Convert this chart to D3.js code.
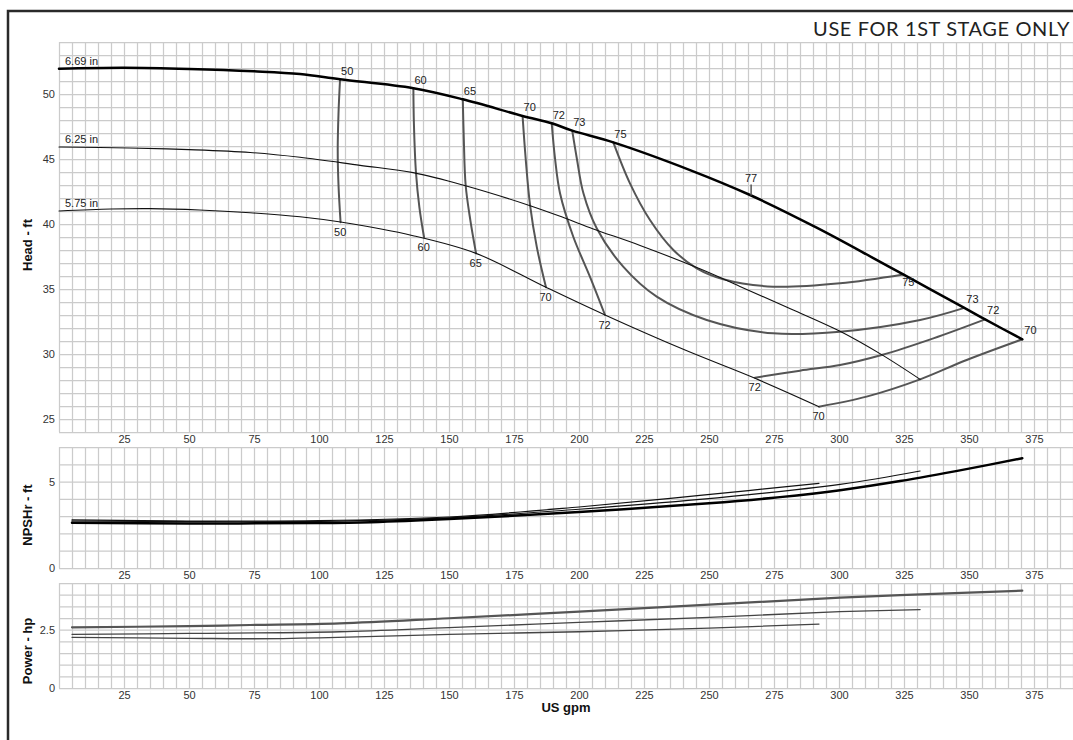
<!DOCTYPE html>
<html><head><meta charset="utf-8">
<script src="https://cdn.jsdelivr.net/npm/d3@7"></script>
<style>
html,body{margin:0;padding:0;background:#fff;overflow:hidden}
svg{display:block}
.tick text{font-family:"Liberation Sans",Arial,sans-serif;font-size:11px;fill:#333}
</style></head><body>
<svg id="c" width="1073" height="740"></svg>
<script>
// ---------------- data ----------------
const gpmTicks = [25,50,75,100,125,150,175,200,225,250,275,300,325,350,375];
const headTicks = [25,30,35,40,45,50];
const npshTicks = [0,5];
const powerTicks = [0,2.5];
const title = "USE FOR 1ST STAGE ONLY";
const diameters = ["6.69 in","6.25 in","5.75 in"];

// Head (US gpm, ft)
const head669 = [[0,51.95],[25,52.02],[50,51.93],[75,51.75],[92.7,51.54],[108.1,51.13],[136.3,50.44],[155.3,49.59],[178.3,48.31],[189.5,47.75],[197.4,47.18],[213.2,46.28],[242.7,44.15],[265.8,42.23],[291.4,39.72],[313.2,37.38],[324.7,36.12],[348.2,33.55],[356.2,32.66],[370.5,31.13]];
const head625 = [[0,45.92],[27,45.85],[50,45.72],[73.5,45.5],[92.7,45.13],[115.8,44.51],[136.2,43.95],[155.3,43.0],[181.2,41.41],[194,40.5],[205.5,39.62],[223.5,38.35],[246.5,36.55],[261.9,35.2],[280,33.6],[300.4,31.75],[316.4,29.95],[331.2,28.05]];
const head575 = [[0,41.0],[20,41.15],[35,41.18],[54,41.08],[73.5,40.87],[92.7,40.56],[108.3,40.15],[136.2,39.1],[160.4,37.74],[187.3,35.13],[210,33.0],[240.8,30.3],[267.7,28.13],[292.3,25.95]];

// Iso-efficiency curves (US gpm, ft)
const eff50 = [[108.1,51.13],[107.5,48.5],[107.2,45.7],[107.5,43.0],[108.3,40.13]];
const eff60 = [[136.3,50.44],[136.5,47.75],[137.3,43.95],[138.6,41.3],[140.4,38.98]];
const eff65 = [[155.3,49.59],[155.7,46.5],[156.4,43.0],[158.2,40.3],[160.4,37.74]];
const eff70a = [[178.3,48.31],[179.5,45.0],[181.2,41.41],[183.8,38.2],[187.3,35.13]];
const eff72a = [[189.5,47.75],[190.8,45.0],[192.7,42.36],[197.8,39.02],[204.2,35.95],[210,33.0]];
const eff73 = [[197.4,47.18],[199.2,45.0],[201.7,42.36],[206.8,39.67],[217.0,36.72],[229.9,34.41],[249.1,32.62],[274.7,31.59],[300.4,31.72],[331.2,32.62],[348.2,33.55]];
const eff75 = [[213.2,46.28],[219.6,43.13],[227.3,40.31],[236.3,38.0],[245.3,36.59],[255.5,35.75],[274.7,35.18],[300.4,35.44],[324.7,36.12]];
const eff72b = [[267.7,28.18],[285,28.72],[300.4,29.15],[316.4,29.92],[336.3,31.2],[356.2,32.66]];
const eff70b = [[292.3,25.95],[310.6,26.72],[331.2,28.05],[349.1,29.54],[370.5,31.13]];
const effNames = ["50","60","65","70","72","73","75","72","70"];
const bepPoint = [266.2,42.2];
const bepLabel = "77";

// NPSHr (US gpm, ft)
const npsh669 = [[5,2.62],[50,2.58],[100,2.6],[120,2.65],[150,2.83],[200,3.24],[250,3.74],[277.3,4.1],[300.4,4.5],[323.5,5.03],[349,5.72],[370.5,6.35]];
const npsh625 = [[5,2.72],[50,2.68],[100,2.7],[150,2.9],[200,3.4],[246.5,3.97],[300.4,4.84],[331.2,5.61]];
const npsh575 = [[5,2.78],[50,2.72],[100,2.74],[150,2.95],[200,3.53],[246.5,4.2],[292.3,4.9]];

// Power (US gpm, hp)
const power669 = [[5,2.6],[50,2.65],[73.5,2.7],[108,2.77],[150,2.99],[200,3.27],[250,3.57],[300.4,3.87],[323.5,3.98],[370.5,4.17]];
const power625 = [[5,2.3],[50,2.34],[108,2.41],[150,2.59],[200,2.81],[250,3.03],[300.4,3.27],[331.2,3.36]];
const power575 = [[5,2.17],[50,2.13],[73.5,2.11],[100,2.15],[150,2.3],[200,2.41],[250,2.57],[292.3,2.74]];

// ---------------- drawing ----------------
const svg = d3.select("#c");
const FONT = '"Liberation Sans",Arial,sans-serif';
const x = d3.scaleLinear().domain([0,390]).range([59,1073]);

const yHead = d3.scaleLinear().domain([24,54]).range([432,42]);
const yNpsh = d3.scaleLinear().domain([0,7]).range([568,447]);
const yPow  = d3.scaleLinear().domain([0,4.5]).range([688,583]);

// frame
svg.append("rect").attr("x",8).attr("y",11).attr("width",1200).attr("height",900)
  .attr("fill","none").attr("stroke","#2a2a2a").attr("stroke-width",2.5);

function panel(y, step, ticks, fmt){
  const [y0,y1] = y.range();
  const g = svg.append("g");
  g.append("g").attr("transform",`translate(0,${y0})`)
    .call(d3.axisBottom(x).tickValues(d3.range(0,391,5)).tickSize(-(y0-y1)).tickFormat(""))
    .call(a=>a.select(".domain").remove())
    .call(a=>a.selectAll("line").attr("stroke","#cbcbcb").attr("stroke-width",1.25));
  const dom = y.domain();
  g.append("g").attr("transform",`translate(${x(0)},0)`)
    .call(d3.axisLeft(y).tickValues(d3.range(dom[0],dom[1]+1e-6,step)).tickSize(-(x.range()[1]-x.range()[0])).tickFormat(""))
    .call(a=>a.select(".domain").remove())
    .call(a=>a.selectAll("line").attr("stroke","#cbcbcb").attr("stroke-width",1.25));
  g.append("g").attr("transform",`translate(0,${y0})`)
    .call(d3.axisBottom(x).tickValues(gpmTicks).tickSize(0).tickPadding(3))
    .call(a=>a.select(".domain").remove());
  g.append("g").attr("transform",`translate(${x(0)},0)`)
    .call(d3.axisLeft(y).tickValues(ticks).tickSize(0).tickPadding(4).tickFormat(fmt))
    .call(a=>a.select(".domain").remove());
}
panel(yHead, 1, headTicks, d3.format("d"));
panel(yNpsh, 1, npshTicks, d3.format("d"));
panel(yPow, 0.5, powerTicks, d=>String(d));

function curve(y, data, color, w){
  svg.append("path").datum(data)
    .attr("d", d3.line().x(d=>x(d[0])).y(d=>y(d[1])).curve(d3.curveCatmullRom.alpha(0.5)))
    .attr("fill","none").attr("stroke",color).attr("stroke-width",w)
    .attr("stroke-linejoin","round").attr("stroke-linecap","round");
}

const effs = [eff50,eff60,eff65,eff70a,eff72a,eff73,eff75,eff72b,eff70b];
effs.forEach(e=>curve(yHead,e,"#555",2));

curve(yHead, head625, "#111", 1.1);
curve(yHead, head575, "#111", 1.1);
curve(yHead, head669, "#000", 2.5);

[head669, head625, head575].forEach((h,i)=>{
  svg.append("text").attr("x",x(h[0][0])+6).attr("y",yHead(h[0][1])-4)
    .attr("font-family",FONT).attr("font-size",11).attr("fill","#222").text(diameters[i]);
});

const place = {
  above:[1,-4.5], below:[-6.5,13.5], belowR:[-1,12], aboveR:[2,-5]
};
const effPlace = [
  ["above","below"],["above","below"],["above","below"],["above","below"],["above","below"],
  ["above","aboveR"],["above","belowR"],["below","aboveR"],["below","aboveR"]
];
effs.forEach((e,i)=>{
  [e[0], e[e.length-1]].forEach((p,k)=>{
    const o = place[effPlace[i][k]];
    svg.append("text").attr("x",x(p[0])+o[0]).attr("y",yHead(p[1])+o[1])
      .attr("font-family",FONT).attr("font-size",11).attr("fill","#222").text(effNames[i]);
  });
});
svg.append("line").attr("x1",x(bepPoint[0])).attr("x2",x(bepPoint[0]))
  .attr("y1",yHead(bepPoint[1])).attr("y2",yHead(bepPoint[1])-11)
  .attr("stroke","#555").attr("stroke-width",1.5);
svg.append("text").attr("x",x(bepPoint[0])).attr("y",yHead(bepPoint[1])-13)
  .attr("text-anchor","middle").attr("font-family",FONT).attr("font-size",11).attr("fill","#222").text(bepLabel);

curve(yNpsh, npsh575, "#111", 1.2);
curve(yNpsh, npsh625, "#111", 1.2);
curve(yNpsh, npsh669, "#000", 2.5);

curve(yPow, power575, "#444", 1.3);
curve(yPow, power625, "#444", 1.3);
curve(yPow, power669, "#555", 2.2);

function vtitle(txt, cx, cy){
  svg.append("text").attr("transform",`translate(${cx},${cy}) rotate(-90)`)
    .attr("text-anchor","middle").attr("font-family",FONT).attr("font-weight","bold")
    .attr("font-size",13).attr("fill","#111").text(txt);
}
vtitle("Head - ft", 31.5, 245);
vtitle("NPSHr - ft", 32, 515);
vtitle("Power - hp", 32, 651);
svg.append("text").attr("x",566).attr("y",712).attr("text-anchor","middle")
  .attr("font-family",FONT).attr("font-weight","bold").attr("font-size",13).attr("fill","#111").text("US gpm");

svg.append("text").attr("x",1070).attr("y",35.5).attr("text-anchor","end")
  .attr("font-family","Lato, 'Open Sans', sans-serif").attr("font-size",20).attr("letter-spacing",0.6)
  .attr("fill","#222").text(title);
</script>
</body></html>
